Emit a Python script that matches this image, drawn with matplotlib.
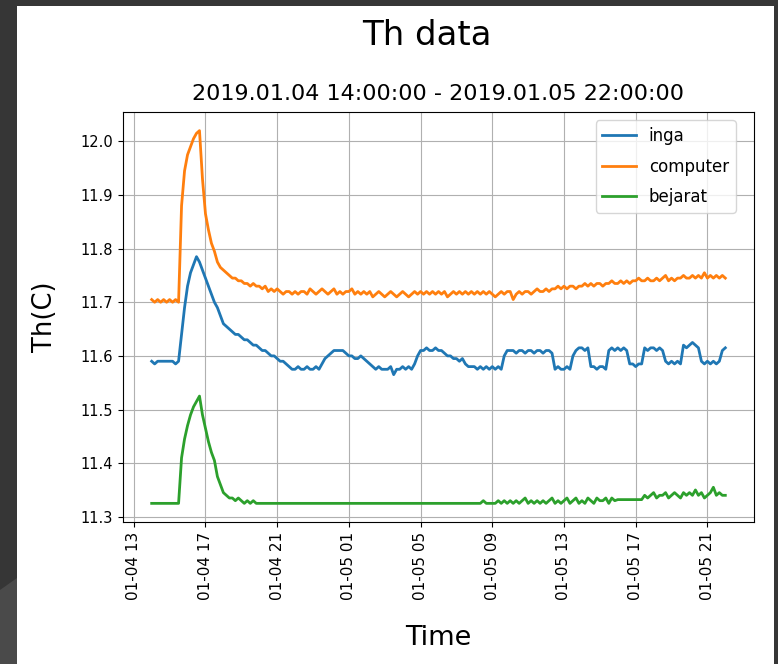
import matplotlib
matplotlib.use("Agg")
import matplotlib.pyplot as plt
import matplotlib.dates as mdates
import pandas as pd
from matplotlib.patches import Rectangle, Polygon
from matplotlib.ticker import MultipleLocator, FormatStrFormatter

# 10 minute samples, 2019-01-04 14:00 -> 2019-01-05 22:00 (one row = 2 hours)
temps = pd.date_range("2019-01-04 14:00", "2019-01-05 22:00", freq="10min")

inga = [
    11.59, 11.585, 11.59, 11.59, 11.59, 11.59, 11.59, 11.59, 11.585, 11.59, 11.64, 11.69,  # 14h
    11.73, 11.755, 11.77, 11.785, 11.775, 11.76, 11.745, 11.73, 11.715, 11.70, 11.69, 11.675,  # 16h
    11.66, 11.655, 11.65, 11.645, 11.64, 11.64, 11.635, 11.63, 11.63, 11.625, 11.62, 11.62,  # 18h
    11.615, 11.61, 11.61, 11.605, 11.60, 11.60, 11.595, 11.59, 11.59, 11.585, 11.58, 11.575,  # 20h
    11.575, 11.58, 11.575, 11.575, 11.58, 11.575, 11.575, 11.58, 11.575, 11.585, 11.595, 11.60,  # 22h
    11.605, 11.61, 11.61, 11.61, 11.61, 11.605, 11.60, 11.60, 11.595, 11.595, 11.60, 11.595,  # 00h
    11.59, 11.585, 11.58, 11.575, 11.58, 11.575, 11.575, 11.575, 11.58, 11.565, 11.575, 11.575,  # 02h
    11.58, 11.575, 11.58, 11.575, 11.585, 11.60, 11.61, 11.61, 11.615, 11.61, 11.61, 11.615,  # 04h
    11.61, 11.61, 11.605, 11.60, 11.60, 11.595, 11.595, 11.59, 11.595, 11.585, 11.58, 11.58,  # 06h
    11.58, 11.575, 11.58, 11.575, 11.58, 11.575, 11.58, 11.575, 11.58, 11.575, 11.60, 11.61,  # 08h
    11.61, 11.61, 11.605, 11.61, 11.61, 11.605, 11.61, 11.61, 11.605, 11.61, 11.61, 11.605,  # 10h
    11.61, 11.61, 11.605, 11.575, 11.58, 11.575, 11.575, 11.58, 11.575, 11.60, 11.61, 11.615,  # 12h
    11.615, 11.61, 11.615, 11.58, 11.58, 11.575, 11.58, 11.58, 11.575, 11.61, 11.615, 11.61,  # 14h
    11.615, 11.61, 11.615, 11.61, 11.585, 11.585, 11.58, 11.585, 11.585, 11.615, 11.61, 11.615,  # 16h
    11.615, 11.61, 11.615, 11.61, 11.59, 11.585, 11.59, 11.585, 11.59, 11.585, 11.62, 11.615,  # 18h
    11.62, 11.625, 11.62, 11.615, 11.59, 11.585, 11.59, 11.585, 11.59, 11.585, 11.59, 11.61,  # 20h
    11.615,
]

computer = [
    11.705, 11.70, 11.705, 11.70, 11.705, 11.70, 11.705, 11.70, 11.705, 11.70, 11.88, 11.945,  # 14h
    11.975, 11.99, 12.005, 12.015, 12.02, 11.93, 11.865, 11.835, 11.81, 11.795, 11.775, 11.765,  # 16h
    11.76, 11.755, 11.75, 11.745, 11.745, 11.74, 11.74, 11.735, 11.735, 11.73, 11.735, 11.73,  # 18h
    11.73, 11.725, 11.73, 11.72, 11.725, 11.72, 11.725, 11.72, 11.715, 11.72, 11.72, 11.715,  # 20h
    11.72, 11.715, 11.72, 11.72, 11.715, 11.725, 11.72, 11.715, 11.72, 11.725, 11.72, 11.715,  # 22h
    11.72, 11.725, 11.715, 11.72, 11.715, 11.72, 11.72, 11.725, 11.715, 11.72, 11.715, 11.72,  # 00h
    11.715, 11.72, 11.71, 11.715, 11.72, 11.715, 11.71, 11.715, 11.72, 11.715, 11.71, 11.715,  # 02h
    11.72, 11.715, 11.71, 11.715, 11.72, 11.715, 11.72, 11.715, 11.72, 11.715, 11.72, 11.715,  # 04h
    11.72, 11.715, 11.72, 11.71, 11.715, 11.72, 11.715, 11.72, 11.715, 11.72, 11.715, 11.72,  # 06h
    11.715, 11.72, 11.715, 11.72, 11.715, 11.72, 11.715, 11.71, 11.715, 11.72, 11.715, 11.72,  # 08h
    11.72, 11.705, 11.715, 11.72, 11.715, 11.72, 11.72, 11.715, 11.72, 11.725, 11.72, 11.72,  # 10h
    11.725, 11.72, 11.725, 11.725, 11.73, 11.725, 11.73, 11.725, 11.73, 11.73, 11.725, 11.73,  # 12h
    11.73, 11.735, 11.73, 11.735, 11.73, 11.735, 11.735, 11.73, 11.735, 11.735, 11.74, 11.735,  # 14h
    11.735, 11.74, 11.735, 11.74, 11.735, 11.74, 11.74, 11.745, 11.74, 11.74, 11.745, 11.74,  # 16h
    11.74, 11.745, 11.74, 11.745, 11.75, 11.74, 11.745, 11.74, 11.745, 11.745, 11.75, 11.745,  # 18h
    11.745, 11.75, 11.745, 11.75, 11.745, 11.755, 11.745, 11.75, 11.745, 11.75, 11.745, 11.75,  # 20h
    11.745,
]

bejarat = [
    11.325, 11.325, 11.325, 11.325, 11.325, 11.325, 11.325, 11.325, 11.325, 11.325, 11.41, 11.445,  # 14h
    11.47, 11.49, 11.505, 11.515, 11.525, 11.49, 11.465, 11.44, 11.42, 11.405, 11.375, 11.36,  # 16h
    11.345, 11.34, 11.335, 11.335, 11.33, 11.335, 11.33, 11.325, 11.33, 11.325, 11.33, 11.325,  # 18h
    11.325, 11.325, 11.325, 11.325, 11.325, 11.325, 11.325, 11.325, 11.325, 11.325, 11.325, 11.325,  # 20h
    11.325, 11.325, 11.325, 11.325, 11.325, 11.325, 11.325, 11.325, 11.325, 11.325, 11.325, 11.325,  # 22h
    11.325, 11.325, 11.325, 11.325, 11.325, 11.325, 11.325, 11.325, 11.325, 11.325, 11.325, 11.325,  # 00h
    11.325, 11.325, 11.325, 11.325, 11.325, 11.325, 11.325, 11.325, 11.325, 11.325, 11.325, 11.325,  # 02h
    11.325, 11.325, 11.325, 11.325, 11.325, 11.325, 11.325, 11.325, 11.325, 11.325, 11.325, 11.325,  # 04h
    11.325, 11.325, 11.325, 11.325, 11.325, 11.325, 11.325, 11.325, 11.325, 11.325, 11.325, 11.325,  # 06h
    11.325, 11.325, 11.325, 11.33, 11.325, 11.325, 11.325, 11.325, 11.33, 11.325, 11.33, 11.325,  # 08h
    11.33, 11.325, 11.33, 11.325, 11.33, 11.335, 11.325, 11.33, 11.325, 11.33, 11.325, 11.33,  # 10h
    11.325, 11.33, 11.335, 11.325, 11.33, 11.325, 11.33, 11.335, 11.325, 11.33, 11.335, 11.325,  # 12h
    11.33, 11.325, 11.335, 11.33, 11.325, 11.335, 11.33, 11.33, 11.335, 11.325, 11.335, 11.33,  # 14h
    11.332, 11.332, 11.332, 11.332, 11.332, 11.332, 11.332, 11.332, 11.332, 11.34, 11.335, 11.34,  # 16h
    11.345, 11.335, 11.34, 11.34, 11.345, 11.335, 11.34, 11.345, 11.34, 11.335, 11.345, 11.34,  # 18h
    11.345, 11.34, 11.35, 11.34, 11.345, 11.335, 11.34, 11.345, 11.355, 11.34, 11.345, 11.34,  # 20h
    11.34,
]

series = [("inga", inga), ("computer", computer), ("bejarat", bejarat)]

W, H = 778, 664
fig = plt.figure(figsize=(W / 100, H / 100), dpi=100)
fig.patch.set_facecolor("#363636")

# fond blanc de la capture + bande grise en bas a gauche
fig.add_artist(Rectangle((17 / W, 0), (774 - 17) / W, 658 / H,
                         transform=fig.transFigure, facecolor="white",
                         edgecolor="none", zorder=-2))
fig.add_artist(Polygon([(0, 1 - 590 / H), (17 / W, 1 - 578 / H), (17 / W, 0), (0, 0)],
                       closed=True, transform=fig.transFigure,
                       facecolor="#4a4a4a", edgecolor="none", zorder=-2))

ax = fig.add_axes([123 / W, 1 - 522 / H, (754 - 123) / W, (522 - 112) / H])

for nom, valeurs in series:
    ax.plot(temps, valeurs, label=nom, linewidth=2.0)

ax.xaxis.set_major_locator(mdates.HourLocator(byhour=[1, 5, 9, 13, 17, 21]))
ax.xaxis.set_major_formatter(mdates.DateFormatter("%m-%d %H"))
ax.yaxis.set_major_locator(MultipleLocator(0.1))
ax.yaxis.set_major_formatter(FormatStrFormatter("%.1f"))
ax.tick_params(axis="x", labelrotation=90, labelsize=11)
ax.tick_params(axis="y", labelsize=10.5)
ax.grid(True)

ax.set_title("2019.01.04 14:00:00 - 2019.01.05 22:00:00", fontsize=16, pad=9)
fig.suptitle("Th data", fontsize=24.5, x=427 / W, y=1 - 19 / H)
ax.set_xlabel("Time", fontsize=19.5, labelpad=18)
ax.set_ylabel("Th(C)", fontsize=18.5, labelpad=16)
ax.legend(loc="upper right", bbox_to_anchor=(1 - 10 / 631, 1),
          fontsize=12, labelspacing=0.75)

fig.savefig("out.png", dpi=100, facecolor=fig.get_facecolor())
